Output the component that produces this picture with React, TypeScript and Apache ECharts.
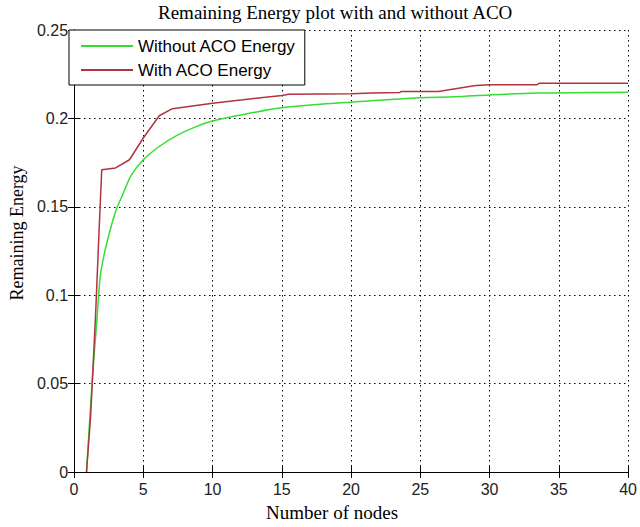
import React, { useEffect, useRef } from "react";
import * as echarts from "echarts";

const titleText = "Remaining Energy plot with and without ACO";
const xName = "Number of nodes";
const yName = "Remaining Energy";
const seriesNames = ["Without ACO Energy", "With ACO Energy"];

const withoutAco: [number, number][] = [
  [0.9, 0], [1.3, 0.05], [1.67, 0.088], [1.9, 0.111], [2.26, 0.126],
  [2.97, 0.1466], [3.56, 0.1578], [4.15, 0.168], [5, 0.1766], [6.15, 0.1841],
  [7.4, 0.1903], [8.86, 0.1955], [10, 0.1985], [12.2, 0.2022], [15, 0.206],
  [17.8, 0.208], [20, 0.2092], [25, 0.2117], [27.5, 0.2122], [30, 0.2133],
  [33.4, 0.2143], [37.5, 0.2146], [40, 0.2148],
];

const withAco: [number, number][] = [
  [0.9, 0], [1.2, 0.032], [1.55, 0.088], [1.8, 0.135], [2.0, 0.171],
  [3.0, 0.172], [4.0, 0.1766], [5.0, 0.1889], [6.15, 0.2015], [7.1, 0.2055],
  [10, 0.2086], [12.2, 0.2105], [15, 0.2130], [15.5, 0.2136], [20, 0.2139],
  [21.5, 0.2144], [23.5, 0.2146], [23.6, 0.2152], [26.3, 0.2152], [29, 0.2186],
  [30, 0.219], [33.4, 0.219], [33.6, 0.2199], [40, 0.2199],
];

const xMin = 0, xMax = 40, xStep = 5;
const yMin = 0, yMax = 0.25, yStep = 0.05;

const GREEN = "#35dd35";
const RED = "#b23340";

export default function App() {
  const ref = useRef<HTMLDivElement>(null);
  useEffect(() => {
    document.body.style.margin = "0";
    const chart = echarts.init(ref.current!, undefined, { renderer: "svg" });
    const sans = "Liberation Sans";
    const serif = "Liberation Serif";
    const tick = { show: true, inside: true, length: 6, lineStyle: { color: "#000" } };
    const line = { show: true, lineStyle: { color: "#000", width: 1 } };
    chart.setOption({
      animation: false,
      backgroundColor: "#fff",
      title: {
        text: titleText,
        left: 158,
        top: 3,
        padding: 0,
        textStyle: { fontFamily: serif, fontSize: 19, fontWeight: "normal", color: "#000" },
      },
      legend: {
        data: seriesNames,
        orient: "vertical",
        left: 69,
        top: 30,
        padding: [6, 9, 5, 12],
        itemGap: 4,
        itemWidth: 52,
        itemHeight: 2,
        icon: "rect",
        backgroundColor: "#fff",
        borderColor: "#000",
        borderWidth: 1,
        borderRadius: 0,
        textStyle: { fontFamily: sans, fontSize: 17, color: "#000", lineHeight: 20 },
      },
      grid: { left: 68, right: 6, top: 30, bottom: 54, containLabel: false },
      xAxis: [
        {
          type: "value", min: xMin, max: xMax, interval: xStep,
          name: xName, nameLocation: "middle", nameGap: 31,
          nameTextStyle: { fontFamily: serif, fontSize: 19, color: "#000", padding: [0, 38, 0, 0] },
          axisLine: line, axisTick: tick,
          axisLabel: { fontFamily: sans, fontSize: 16, color: "#222", margin: 9 },
          splitLine: { show: true, lineStyle: { color: "#000", type: [1.5, 3.5], width: 1 } },
        },
        {
          type: "value", min: xMin, max: xMax, interval: xStep, position: "top",
          axisLine: line, axisTick: tick, axisLabel: { show: false }, splitLine: { show: false },
        },
      ],
      yAxis: [
        {
          type: "value", min: yMin, max: yMax, interval: yStep,
          name: yName, nameLocation: "middle", nameGap: 35, nameRotate: 90,
          nameTextStyle: { fontFamily: serif, fontSize: 18, color: "#000", padding: [0, 0, 0, 36] },
          axisLine: line, axisTick: tick,
          axisLabel: { fontFamily: sans, fontSize: 16, color: "#222", margin: 6 },
          splitLine: { show: true, lineStyle: { color: "#000", type: [1.5, 3.5], width: 1 } },
        },
        {
          type: "value", min: yMin, max: yMax, interval: yStep, position: "right",
          axisLine: line, axisTick: tick, axisLabel: { show: false }, splitLine: { show: false },
        },
      ],
      series: [
        {
          name: seriesNames[0], type: "line", data: withoutAco, symbol: "none",
          smooth: 0.35,
          lineStyle: { color: GREEN, width: 1.5 }, itemStyle: { color: GREEN }, z: 3,
        },
        {
          name: seriesNames[1], type: "line", data: withAco, symbol: "none",
          lineStyle: { color: RED, width: 1.5 }, itemStyle: { color: RED }, z: 4,
        },
      ],
    });
    return () => chart.dispose();
  }, []);
  return <div ref={ref} style={{ width: 640, height: 527 }} />;
}
